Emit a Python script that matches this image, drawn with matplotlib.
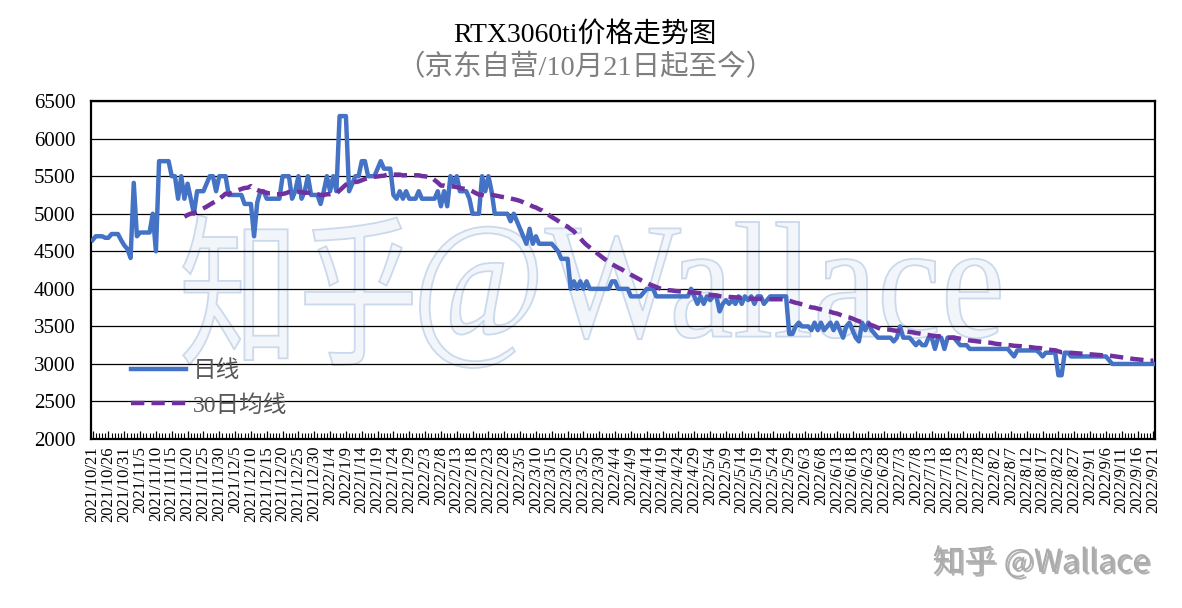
import numpy as np
import pandas as pd
import matplotlib
matplotlib.use('Agg')
import matplotlib.pyplot as plt
import matplotlib.patheffects as pe
from matplotlib.textpath import TextPath
from matplotlib.patches import PathPatch
from matplotlib.font_manager import FontProperties
from matplotlib.transforms import Affine2D

plt.rcParams['font.family'] = ['Liberation Serif', 'Noto Sans CJK SC']

# daily price, JD self-operated, 2021/10/21 .. 2022/9/21
start_date = '2021-10-21'
end_date = '2022-09-21'
daily_price = [
    4649, 4699, 4699, 4699, 4679, 4679, 4729, 4729, 4729, 4649,
    4579, 4529, 4410, 5410, 4699, 4749, 4749, 4749, 4749, 4999,
    4499, 5699, 5699, 5699, 5699, 5499, 5499, 5199, 5499, 5199,
    5399, 5199, 4999, 5299, 5299, 5299, 5399, 5499, 5499, 5299,
    5499, 5499, 5499, 5249, 5249, 5249, 5249, 5249, 5129, 5129,
    5129, 4699, 5149, 5299, 5299, 5199, 5199, 5199, 5199, 5199,
    5499, 5499, 5499, 5199, 5299, 5499, 5199, 5299, 5499, 5249,
    5249, 5249, 5129, 5299, 5499, 5299, 5499, 5299, 6299, 6299,
    6299, 5299, 5399, 5499, 5499, 5699, 5699, 5499, 5499, 5499,
    5599, 5699, 5599, 5599, 5599, 5249, 5199, 5299, 5199, 5299,
    5199, 5199, 5199, 5299, 5199, 5199, 5199, 5199, 5199, 5299,
    5099, 5299, 5099, 5499, 5399, 5499, 5299, 5299, 5299, 5199,
    4999, 4999, 4999, 5499, 5299, 5499, 5299, 4999, 4999, 4999,
    4999, 4999, 4899, 4999, 4899, 4799, 4699, 4599, 4799, 4599,
    4699, 4599, 4599, 4599, 4599, 4599, 4549, 4499, 4399, 4399,
    4399, 3999, 4099, 3999, 4099, 3999, 4099, 3999, 3999, 3999,
    3999, 3999, 3999, 3999, 4099, 4099, 3999, 3999, 3999, 3999,
    3899, 3899, 3899, 3899, 3949, 3999, 3999, 3999, 3899, 3899,
    3899, 3899, 3899, 3899, 3899, 3899, 3899, 3899, 3899, 3999,
    3899, 3799, 3899, 3799, 3899, 3849, 3899, 3899, 3699, 3799,
    3849, 3799, 3849, 3799, 3899, 3799, 3899, 3849, 3899, 3799,
    3899, 3899, 3799, 3849, 3899, 3899, 3899, 3899, 3899, 3899,
    3399, 3399, 3499, 3549, 3499, 3499, 3499, 3449, 3549, 3449,
    3549, 3449, 3499, 3549, 3449, 3549, 3449, 3349, 3499, 3549,
    3449, 3349, 3299, 3549, 3449, 3549, 3449, 3399, 3349, 3349,
    3349, 3349, 3349, 3299, 3349, 3499, 3349, 3349, 3349, 3299,
    3249, 3299, 3249, 3249, 3349, 3349, 3199, 3349, 3349, 3199,
    3349, 3349, 3349, 3299, 3249, 3249, 3249, 3199, 3199, 3199,
    3199, 3199, 3199, 3199, 3199, 3199, 3199, 3199, 3199, 3199,
    3149, 3099, 3179, 3179, 3179, 3179, 3179, 3179, 3179, 3149,
    3099, 3149, 3149, 3149, 3149, 2849, 2849, 3149, 3149, 3099,
    3099, 3099, 3099, 3099, 3099, 3099, 3099, 3099, 3099, 3099,
    3099, 3049, 2999, 2999, 2999, 2999, 2999, 2999, 2999, 2999,
    2999, 2999, 2999, 2999, 2999, 2999,
]
ma_window = 30

dates = pd.date_range(start_date, end_date, freq='D')
df = pd.DataFrame({'price': daily_price}, index=dates)
df['ma'] = df['price'].rolling(ma_window).mean()
xs = np.arange(len(df))
labels = [f"{d.year}/{d.month}/{d.day}" for d in dates]

W, H = 1182, 608
fig = plt.figure(figsize=(W / 100, H / 100), dpi=100)
ax = fig.add_axes([91 / W, 1 - 439 / H, (1155 - 91) / W, (439 - 101) / H])
ax.set_facecolor('none')
ax.set_zorder(2)

ax.plot(xs, df['price'], color='#4472C4', lw=3.2, solid_joinstyle='round', label='日线', zorder=3)
ax.plot(xs, df['ma'], color='#7030A0', lw=3.2, ls=(0, (3, 1.6)), label='30日均线', zorder=4)

ax.set_xlim(-0.5, len(df) - 0.5)
ax.set_ylim(2000, 6500)
ax.set_yticks(np.arange(2000, 6501, 500))
ax.grid(axis='y', color='black', lw=0.9)
ax.set_axisbelow(True)
for s in ax.spines.values():
    s.set_linewidth(1.6)
    s.set_color('black')

ax.set_xticks(xs[::5])
ax.set_xticklabels(labels[::5], rotation=90, fontsize=12)
ax.set_xticks(xs, minor=True)
ax.tick_params(axis='x', which='major', direction='in', length=6, width=0.9, pad=5)
ax.tick_params(axis='x', which='minor', direction='in', length=4, width=0.8)
ax.tick_params(axis='y', length=0, pad=11, labelsize=15)

leg = ax.legend(loc='center left', bbox_to_anchor=(0.038, 0.15), frameon=False,
                fontsize=17, handlelength=2.3, handletextpad=0.3, labelspacing=0.55,
                borderaxespad=0, borderpad=0)
for t in leg.get_texts():
    t.set_color('#595959')

fig.text(585 / W, 1 - 35 / H, 'RTX3060ti价格走势图', ha='center', va='center', fontsize=20, color='black')
fig.text(585 / W, 1 - 68 / H, '（京东自营/10月21日起至今）', ha='center', va='center', fontsize=20.5, color='#7f7f7f')


# big faint watermark behind the plot
def watermark(text, family, box):
    tp = TextPath((0, 0), text, size=100, prop=FontProperties(family=family))
    ext = tp.get_extents()
    x0, y0, x1, y1 = box
    tr = (Affine2D().translate(-ext.x0, -ext.y0)
          .scale((x1 - x0) / ext.width, (y1 - y0) / ext.height)
          .translate(x0, H - y1))
    patch = PathPatch(tp, transform=tr, facecolor='#f2f6fb', edgecolor='#cbd9ec', lw=1.3, zorder=1)
    fig.add_artist(patch)


watermark('知乎', 'Noto Sans CJK SC', (183, 215, 412, 365))
watermark('@Wallace', 'Liberation Serif', (420, 222, 1000, 368))

fig.text(1150 / W, 1 - 563 / H, '知乎 @Wallace', ha='right', va='center', fontsize=23,
         family=['Noto Sans CJK SC', 'DejaVu Sans'], color='#ababab',
         path_effects=[pe.withSimplePatchShadow(offset=(1.5, -1.5), shadow_rgbFace='#666666', alpha=0.5)])

fig.savefig('out.png', dpi=100)
